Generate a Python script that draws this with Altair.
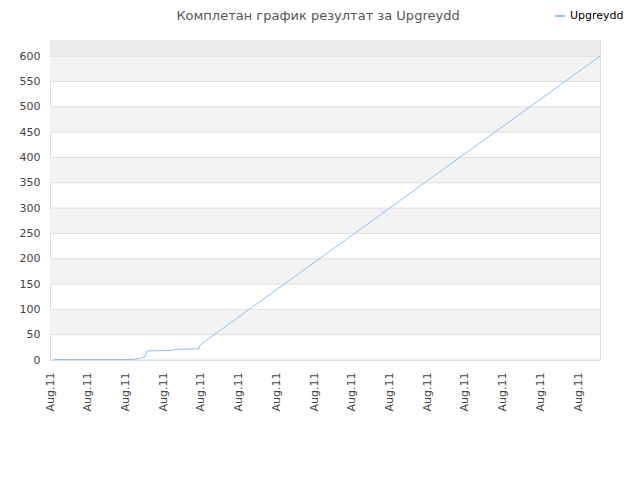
import altair as alt
import pandas as pd

# series (time index in label units, cumulative result)
t_vals = [0.1, 2.2, 2.35, 2.52, 2.57, 3.26, 3.29, 3.95, 3.98, 14.58]
scores = [1, 1, 3, 6, 18, 19, 21, 22, 30, 600]
series_name = "Upgreydd"
tick_positions = list(range(0, 15))
tick_label = "Aug.11"
y_ticks = list(range(0, 601, 50))
title_text = "Комплетан график резултат за Upgreydd"

line_df = pd.DataFrame({"t": t_vals, "v": scores, "s": series_name})
odd = [y for y in y_ticks if (y // 50) % 2 == 1]
bands_df = pd.DataFrame({"lo": odd, "hi": [y + 50 for y in odd]})
top_df = pd.DataFrame({"lo": [600], "hi": [632]})
grid_df = pd.DataFrame({"y": y_ticks})

FONT = "DejaVu Sans"
xs = alt.Scale(domain=[0, 14.58], nice=False, zero=False)
ys = alt.Scale(domain=[0, 632], nice=False)
y_axis = alt.Axis(values=y_ticks, ticks=False, domain=False, grid=False,
                  labelPadding=10, labelFontSize=11, labelColor="#444444",
                  labelFont=FONT)

bands = alt.Chart(bands_df).mark_rect(color="#f3f3f3").encode(
    y=alt.Y("lo:Q", scale=ys, axis=y_axis, title=None),
    y2="hi:Q",
)
top_band = alt.Chart(top_df).mark_rect(color="#ececec").encode(
    y=alt.Y("lo:Q", scale=ys, axis=y_axis, title=None),
    y2="hi:Q",
)

grid = alt.Chart(grid_df).mark_rule(color="#dddddd", strokeWidth=1).encode(
    y=alt.Y("y:Q", scale=ys, axis=y_axis, title=None),
)

line = alt.Chart(line_df).mark_line(strokeWidth=1, interpolate="linear").encode(
    x=alt.X("t:Q", scale=xs, title=None,
            axis=alt.Axis(values=tick_positions, labelExpr=f"'{tick_label}'",
                          labelAngle=270, labelAlign="right", labelBaseline="middle",
                          labelPadding=12, ticks=False, domain=False, grid=False,
                          labelFontSize=11, labelColor="#444444", labelFont=FONT)),
    y=alt.Y("v:Q", scale=ys, title=None, axis=y_axis),
    color=alt.Color("s:N", scale=alt.Scale(domain=[series_name], range=["#8ec0f5"]),
                    legend=alt.Legend(title=None, orient="none", legendX=504, legendY=-30,
                                      symbolType="stroke", symbolStrokeWidth=2, symbolSize=100,
                                      labelFontSize=11, labelColor="#000000", labelFont=FONT)),
)

chart = alt.layer(bands, top_band, grid, line).properties(
    width=550, height=320,
    title=alt.TitleParams(title_text, font=FONT, fontSize=13, fontWeight="normal",
                          color="#555555", anchor="middle", dx=-7, offset=-13),
    autosize=alt.AutoSizeParams(type="none"),
    padding={"left": 42, "top": 32, "right": 30, "bottom": 60},
).configure_view(stroke="#dddddd", strokeWidth=1)

chart.save("out.html", embed_options={"renderer": "svg", "actions": False})
